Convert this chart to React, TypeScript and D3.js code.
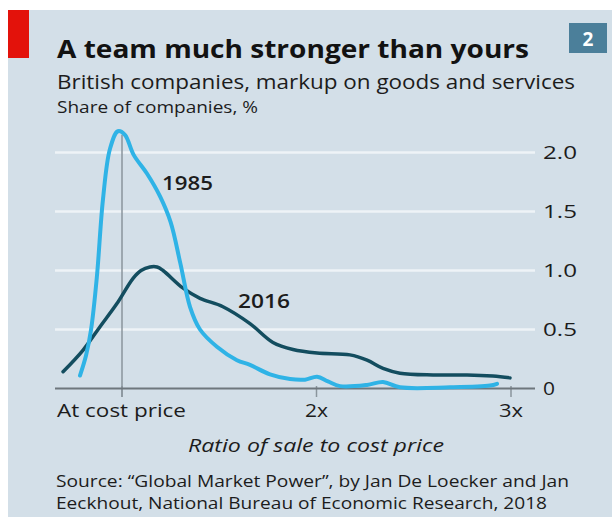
import React from "react";
import * as d3 from "d3";

const ratio1985 = [0.784, 0.815, 0.841, 0.871, 0.902, 0.938, 0.979, 1.015, 1.06, 1.129, 1.195, 1.25, 1.3, 1.35, 1.401, 1.488, 1.591, 1.658, 1.761, 1.864, 1.941, 2.003, 2.059, 2.121, 2.26, 2.342, 2.429, 2.686, 2.892, 2.928];
const share1985 = [0.11, 0.28, 0.5, 0.95, 1.6, 2.03, 2.18, 2.15, 1.98, 1.82, 1.63, 1.41, 1.06, 0.69, 0.5, 0.354, 0.24, 0.2, 0.12, 0.08, 0.075, 0.1, 0.06, 0.02, 0.03, 0.055, 0.01, 0.01, 0.025, 0.04];
const ratio2016 = [0.697, 0.8, 0.887, 0.974, 1.057, 1.098, 1.144, 1.18, 1.211, 1.314, 1.401, 1.519, 1.658, 1.776, 1.879, 2.003, 2.172, 2.26, 2.342, 2.429, 2.599, 2.774, 2.907, 2.995];
const share2016 = [0.142, 0.326, 0.524, 0.72, 0.934, 1.0, 1.03, 1.03, 1.0, 0.85, 0.764, 0.693, 0.55, 0.39, 0.33, 0.3, 0.285, 0.24, 0.17, 0.13, 0.115, 0.115, 0.105, 0.09];
const yTicks = [0, 0.5, 1.0, 1.5, 2.0];
const yTickLabels = ["0", "0.5", "1.0", "1.5", "2.0"];
const xTicks = [1, 2, 3];
const xTickLabels = ["At cost price", "2x", "3x"];

const FONT = "'Open Sans', 'Noto Sans', sans-serif";
const INK = "#1c1c1c";

export default function App() {
  const x = d3.scaleLinear().domain([1, 3]).range([122, 511]);
  const y = d3.scaleLinear().domain([0, 2]).range([388.5, 152.5]);
  const line = d3
    .line<[number, number]>()
    .x((d) => x(d[0]))
    .y((d) => y(d[1]))
    .curve(d3.curveCatmullRom.alpha(0.5));
  const d1985 = line(ratio1985.map((r, i) => [r, share1985[i]]) as [number, number][]) || "";
  const d2016 = line(ratio2016.map((r, i) => [r, share2016[i]]) as [number, number][]) || "";
  const fit = { lengthAdjust: "spacingAndGlyphs" } as any;

  return (
    <svg width={612} height={517} style={{ position: "absolute", left: 0, top: 0 }} fontFamily={FONT}>
      <rect x={0} y={0} width={612} height={517} fill="#ffffff" />
      <rect x={8} y={10} width={604} height={507} fill="#d3dfe8" />
      <rect x={8} y={10} width={21} height={48} fill="#e3120b" />
      <rect x={569} y={23} width={38} height={30} fill="#4b7f9a" />
      <text x={588} y={46} fill="#ffffff" fontSize={19} fontWeight={700} textAnchor="middle">2</text>

      <text x={57} y={58} fontSize={25.5} fontWeight={700} fill="#121212" textLength={472} {...fit}>A team much stronger than yours</text>
      <text x={57} y={89} fontSize={20} fill={INK} textLength={518} {...fit}>British companies, markup on goods and services</text>
      <text x={57} y={113} fontSize={16} fill={INK} textLength={201} {...fit}>Share of companies, %</text>

      {yTicks.filter((t) => t > 0).map((t) => (
        <line key={t} x1={55} x2={535} y1={y(t)} y2={y(t)} stroke="#eef3f7" strokeWidth={2.5} />
      ))}
      {yTicks.map((t, i) => (
        <text key={"l" + t} x={543} y={y(t) + 6.5} fontSize={18} fill={INK} textLength={i === 0 ? 12 : 34} {...fit}>{yTickLabels[i]}</text>
      ))}

      <line x1={x(1)} x2={x(1)} y1={y(2.15)} y2={397} stroke="#8a959d" strokeWidth={1.5} />
      {xTicks.map((t) => (
        <line key={"t" + t} x1={x(t)} x2={x(t)} y1={386} y2={397} stroke="#8a959d" strokeWidth={1.5} />
      ))}
      <line x1={55} x2={535} y1={y(0)} y2={y(0)} stroke="#6e777d" strokeWidth={2} />

      <path d={d2016} fill="none" stroke="#134d5f" strokeWidth={3.5} strokeLinejoin="round" strokeLinecap="round" />
      <path d={d1985} fill="none" stroke="#2fb3e6" strokeWidth={4} strokeLinejoin="round" strokeLinecap="round" />

      <text x={162} y={190} fontSize={19} fontWeight={600} fill={INK} textLength={51} {...fit}>1985</text>
      <text x={238} y={308} fontSize={19} fontWeight={600} fill={INK} textLength={52} {...fit}>2016</text>

      <text x={57} y={417} fontSize={19} fill={INK} textLength={129} {...fit}>{xTickLabels[0]}</text>
      <text x={305} y={417} fontSize={19} fill={INK} textLength={23} {...fit}>{xTickLabels[1]}</text>
      <text x={499} y={417} fontSize={19} fill={INK} textLength={24} {...fit}>{xTickLabels[2]}</text>

      <text x={188} y={452} fontSize={19} fontStyle="italic" fill={INK} textLength={256} {...fit}>Ratio of sale to cost price</text>

      <text x={56} y={486.5} fontSize={16} fill={INK} textLength={513} {...fit}>Source: “Global Market Power”, by Jan De Loecker and Jan</text>
      <text x={56} y={508.5} fontSize={16} fill={INK} textLength={491} {...fit}>Eeckhout, National Bureau of Economic Research, 2018</text>
    </svg>
  );
}
